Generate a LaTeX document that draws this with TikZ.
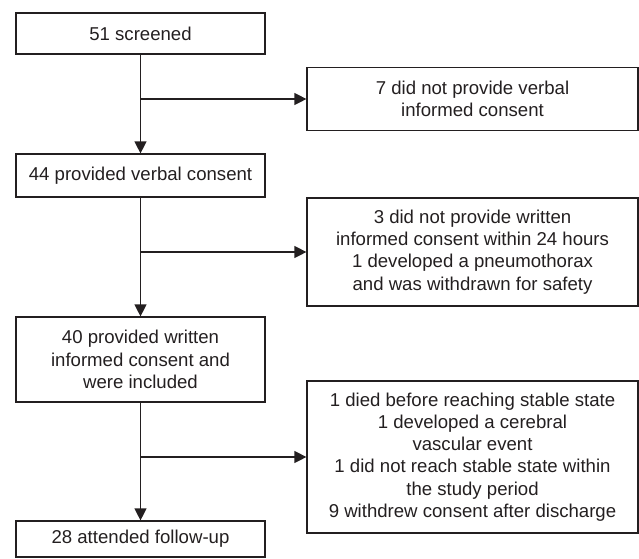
\documentclass[tikz,border=0pt]{standalone}
\usepackage{fontspec}
\setmainfont{Liberation Sans}
\usetikzlibrary{arrows.meta}
\definecolor{ink}{HTML}{231F20}

\begin{document}
\begin{tikzpicture}[x=1pt, y=-1pt,
    box/.style={draw=ink, line width=1.2pt, align=center, text=ink, inner sep=0pt,
        font=\fontsize{18.6}{22.3}\selectfont},
    leftbox/.style={box, minimum width=249pt},
    rightbox/.style={box, minimum width=331pt},
    arr/.style={draw=ink, line width=1.2pt, -{Triangle[length=12pt, width=12pt]}}]

    \useasboundingbox (0,0) rectangle (639,558);

    \node[leftbox, minimum height=41pt] (screened) at (140.5,33.5) {51 screened};
    \node[rightbox, minimum height=63pt] (noverbal) at (472.5,99) {7 did not provide verbal\\informed consent};
    \node[leftbox, minimum height=43pt] (verbal) at (140.5,175.5) {44 provided verbal consent};
    \node[rightbox, minimum height=108pt] (nowritten) at (472.5,252) {3 did not provide written\\informed consent within 24 hours\\1 developed a pneumothorax\\and was withdrawn for safety};
    \node[leftbox, minimum height=85pt] (included) at (140.5,359.5) {40 provided written\\informed consent and\\were included};
    \node[rightbox, minimum height=152pt] (lost) at (472.5,457) {1 died before reaching stable state\\1 developed a cerebral\\vascular event\\1 did not reach stable state within\\the study period\\9 withdrew consent after discharge};
    \node[leftbox, minimum height=36pt] (followup) at (140.5,539) {28 attended follow-up};

    \coordinate (j1) at (screened.south |- noverbal.west);
    \coordinate (j2) at (verbal.south |- nowritten.west);
    \coordinate (j3) at (included.south |- lost.west);

    \draw[arr] (screened) -- (verbal);
    \draw[arr] (j1) -- (noverbal);
    \draw[arr] (verbal) -- (included);
    \draw[arr] (j2) -- (nowritten);
    \draw[arr] (included) -- (followup);
    \draw[arr] (j3) -- (lost);

\end{tikzpicture}
\end{document}
